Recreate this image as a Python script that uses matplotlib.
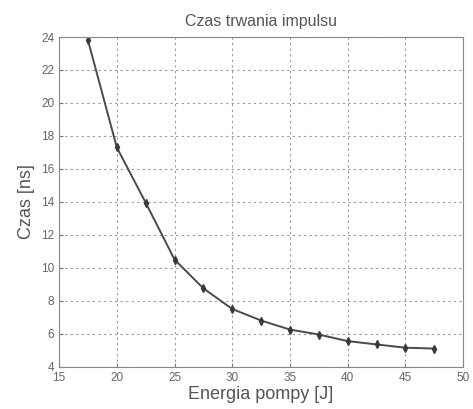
import numpy as np
import matplotlib
matplotlib.use("Agg")
import matplotlib.pyplot as plt

plt.rcParams['font.family'] = ['Liberation Sans', 'DejaVu Sans']

energia = [17.5, 20, 22.5, 25, 27.5, 30, 32.5, 35, 37.5, 40, 42.5, 45, 47.5]
czas = [23.8, 17.3, 13.95, 10.5, 8.75, 7.5, 6.8, 6.25, 5.95, 5.55, 5.35, 5.15, 5.1]

fig = plt.figure(figsize=(4.73, 4.09), dpi=100)
ax = fig.add_axes([0.125, 0.1035, 0.854, 0.806])

# linia z markerami
ax.plot(energia, czas, color='#4a4a4a', lw=1.4, marker='d', ms=4,
        mfc='#3a3a3a', mec='#3a3a3a')

ax.set_xlim(15, 50)
ax.set_ylim(4, 24)
ax.set_xticks(np.arange(15, 51, 5))
ax.set_yticks(np.arange(4, 25, 2))
ax.grid(True, linestyle=(0, (2, 3)), color='#999999', lw=0.8)
for s in ax.spines.values():
    s.set_color('#888888')
ax.tick_params(colors='#777777', labelsize=8.5, direction='in', length=3)
ax.tick_params(axis='both', labelcolor='#666666')

ax.set_title('Czas trwania impulsu', fontsize=11.5, color='#555555', pad=8)
ax.set_xlabel('Energia pompy [J]', fontsize=13, color='#555555', labelpad=2)
ax.set_ylabel('Czas [ns]', fontsize=13, color='#555555', labelpad=4)

fig.savefig('out.png', dpi=100)
